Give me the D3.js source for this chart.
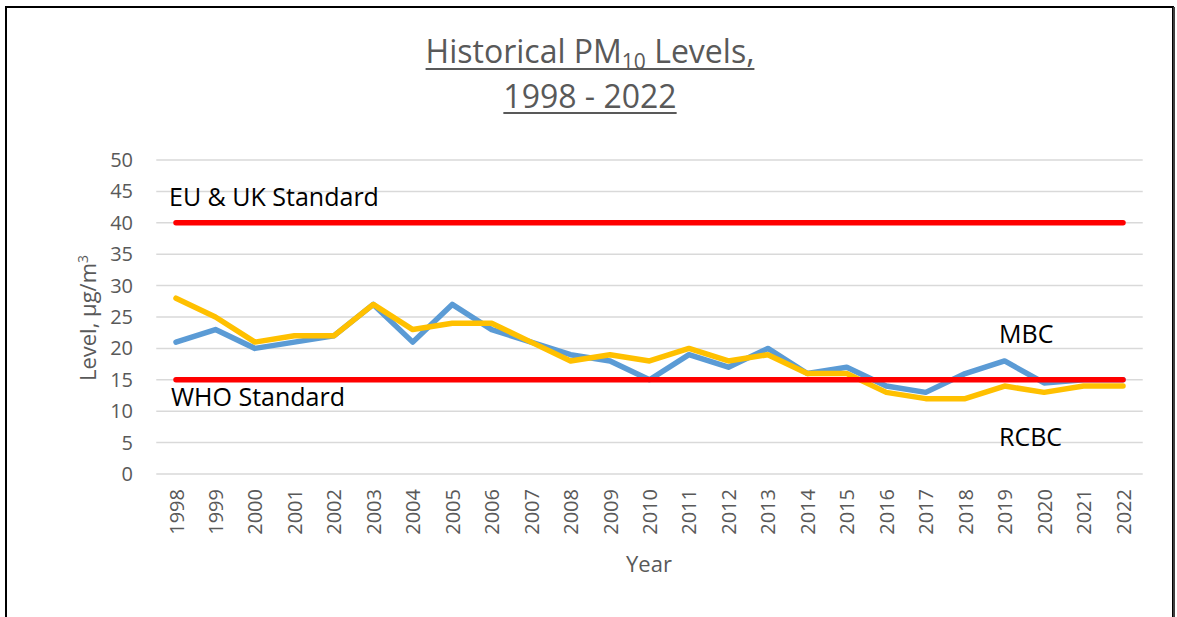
<!DOCTYPE html>
<html>
<head>
<meta charset="utf-8">
<script src="https://cdn.jsdelivr.net/npm/d3@7"></script>
<style>
html,body{margin:0;padding:0;background:#fff;}
svg{display:block;font-family:"Open Sans",sans-serif;}
</style>
</head>
<body>
<svg id="chart" width="1177" height="617"></svg>
<script>
const years = [1998,1999,2000,2001,2002,2003,2004,2005,2006,2007,2008,2009,2010,2011,2012,2013,2014,2015,2016,2017,2018,2019,2020,2021,2022];
const mbc  = [21,23,20,21,22,27,21,27,23,21,19,18,15,19,17,20,16,17,14,13,16,18,14.5,15,15];
const rcbc = [28,25,21,22,22,27,23,24,24,21,18,19,18,20,18,19,16,16,13,12,12,14,13,14,14];
const euStandard = 40;
const whoStandard = 15;
const yTicks = [0,5,10,15,20,25,30,35,40,45,50];

const svg = d3.select("#chart");

// outer border
svg.append("rect").attr("x",6).attr("y",7).attr("width",1167).attr("height",700)
  .attr("fill","none").attr("stroke","#000").attr("stroke-width",2);
svg.append("line").attr("x1",1174).attr("x2",1174).attr("y1",7).attr("y2",617)
  .attr("stroke","#404040").attr("stroke-width",2);

const x = d3.scalePoint().domain(years).range([176,1123]);
const y = d3.scaleLinear().domain([0,50]).range([474,160]);
const step = x.step();
const gx0 = x(years[0]) - step/2, gx1 = x(years[years.length-1]) + step/2;

// gridlines
svg.append("g").selectAll("line").data(yTicks).join("line")
  .attr("x1",gx0).attr("x2",gx1).attr("y1",d=>y(d)).attr("y2",d=>y(d))
  .attr("stroke","#d9d9d9").attr("stroke-width",1.5);

// y axis ticks
const yAxis = d3.axisLeft(y).tickValues(yTicks).tickSize(0).tickPadding(0);
const gy = svg.append("g").attr("transform",`translate(${133},0)`).call(yAxis);
gy.select(".domain").remove();
gy.selectAll("text").attr("fill","#595959").style("font-size","20px").style("font-family","Open Sans");

// x axis ticks
const xAxis = d3.axisBottom(x).tickSize(0).tickPadding(0);
const gxa = svg.append("g").attr("transform",`translate(0,489)`).call(xAxis);
gxa.select(".domain").remove();
gxa.selectAll("text")
  .attr("fill","#595959").style("font-size","20px").style("font-family","Open Sans")
  .attr("text-anchor","end").attr("dy","0.35em").attr("y",0).attr("x",0)
  .attr("transform","rotate(-90)");

// axis titles
svg.append("text").attr("x",649).attr("y",572).attr("text-anchor","middle")
  .attr("fill","#595959").style("font-size","22px").text("Year");
const yl = svg.append("text").attr("transform","translate(96,318) rotate(-90)")
  .attr("text-anchor","middle").attr("fill","#595959").style("font-size","22px");
yl.append("tspan").text("Level, µg/m");
yl.append("tspan").attr("dy","-0.55em").style("font-size","14px").text("3");

// series lines
const line = d3.line().x((d,i)=>x(years[i])).y(d=>y(d));
svg.append("path").datum(mbc).attr("d",line).attr("fill","none")
  .attr("stroke","#5b9bd5").attr("stroke-width",5.5).attr("stroke-linejoin","round").attr("stroke-linecap","round");
svg.append("path").datum(rcbc).attr("d",line).attr("fill","none")
  .attr("stroke","#ffc000").attr("stroke-width",5.5).attr("stroke-linejoin","round").attr("stroke-linecap","round");

// standards
[euStandard, whoStandard].forEach(v=>{
  svg.append("line").attr("x1",x(years[0])).attr("x2",x(years[years.length-1]))
    .attr("y1",y(v)).attr("y2",y(v)).attr("stroke","#ff0000").attr("stroke-width",5.5)
    .attr("stroke-linecap","round");
});

// labels
const lab = (t,xx,yy)=>svg.append("text").attr("x",xx).attr("y",yy).attr("fill","#000")
  .style("font-size","25px").text(t);
lab("EU & UK Standard",169,206);
lab("WHO Standard",171,406);
lab("MBC",999,343);
lab("RCBC",999,446);

// title
const t1 = svg.append("text").attr("x",590).attr("y",63).attr("text-anchor","middle")
  .attr("fill","#595959").style("font-size","32px");
t1.append("tspan").text("Historical PM");
t1.append("tspan").attr("dy",6).style("font-size","21px").text("10");
t1.append("tspan").attr("dy",-6).text(" Levels,");
const t2 = svg.append("text").attr("x",590).attr("y",108).attr("text-anchor","middle")
  .attr("fill","#595959").style("font-size","32px").text("1998 - 2022");
[[t1,69],[t2,113]].forEach(([t,uy])=>{
  const b = t.node().getBBox();
  svg.append("line").attr("x1",b.x).attr("x2",b.x+b.width).attr("y1",uy).attr("y2",uy)
    .attr("stroke","#595959").attr("stroke-width",2);
});
</script>
</body>
</html>
